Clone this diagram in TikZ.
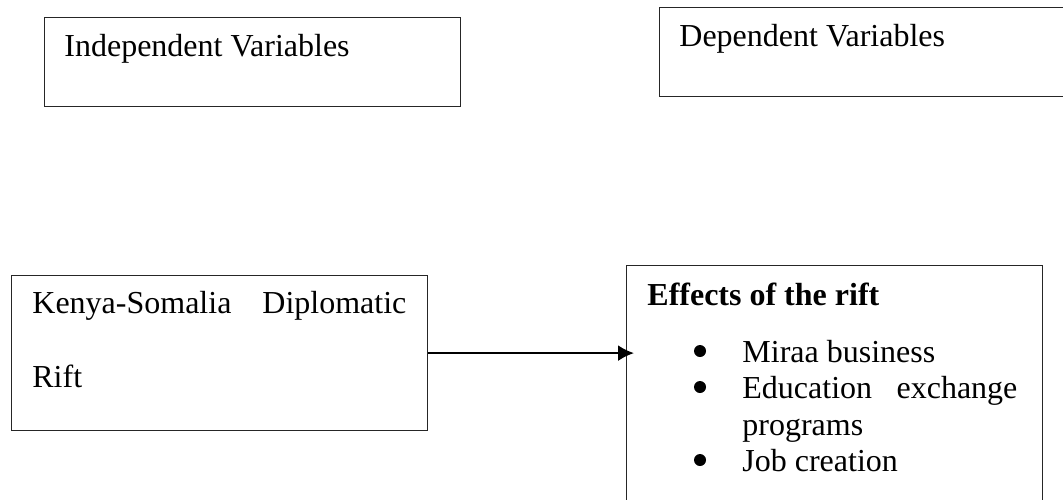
\documentclass[tikz,border=0pt]{standalone}
\usepackage{fontspec}
\setmainfont{Liberation Serif}
\usetikzlibrary{arrows.meta}
\tikzstyle{varBox}=[draw=black!85, line width=0.6pt, anchor=north west, inner sep=0pt]
\tikzstyle{inBox}=[anchor=base west, inner sep=0pt, font=\fontsize{16}{18}\selectfont]
\tikzstyle{bulletDot}=[circle, fill=black, inner sep=0pt, minimum size=6pt]
\newcommand{\varRect}[5]{% name, x, y, width, height (px)
  \node[varBox, minimum width=#4*0.5pt, minimum height=#5*0.5pt] (#1) at (#2,#3) {}}

\begin{document}
\begin{tikzpicture}[x=0.5pt, y=-0.5pt]
  \useasboundingbox (0,0) rectangle (1063,499);
  \clip (0,0) rectangle (1063,499);
  % top row
  \varRect{indepBox}{44}{17}{416}{89};
  \varRect{depBox}{659}{7}{430}{89};
  \node[inBox] (indepTxt) at (64,56) {Independent Variables};
  \node[inBox] (depTxt) at (679,46) {Dependent Variables};
  % bottom row
  \varRect{riftBox}{11}{275}{416}{155};
  \varRect{effBox}{626}{265}{416}{260};
  \node[inBox] (riftA) at (32,313) {\makebox[187pt][s]{Kenya-Somalia Diplomatic}};
  \node[inBox] (riftB) at (32,387) {Rift};
  \node[inBox, font=\fontsize{16}{18}\selectfont\bfseries] (effTxt) at (647,305) {Effects of the rift};
  \node[inBox] (itemA) at (742,362) {Miraa business};
  \node[inBox] (itemB) at (742,398) {\makebox[137.5pt][s]{Education exchange}};
  \node[inBox] (itemC) at (742,435) {programs};
  \node[inBox] (itemD) at (742,471) {Job creation};
  \foreach \i/\y in {A/362,B/398,D/471}
    \node[bulletDot] (dot\i) at (700,\y-11) {};
  \draw[-{Latex[length=8pt,width=8pt]}, line width=1.1pt, shorten >=-4pt]
    (riftBox.east) -- (riftBox.east -| effBox.west);
\end{tikzpicture}
\end{document}
